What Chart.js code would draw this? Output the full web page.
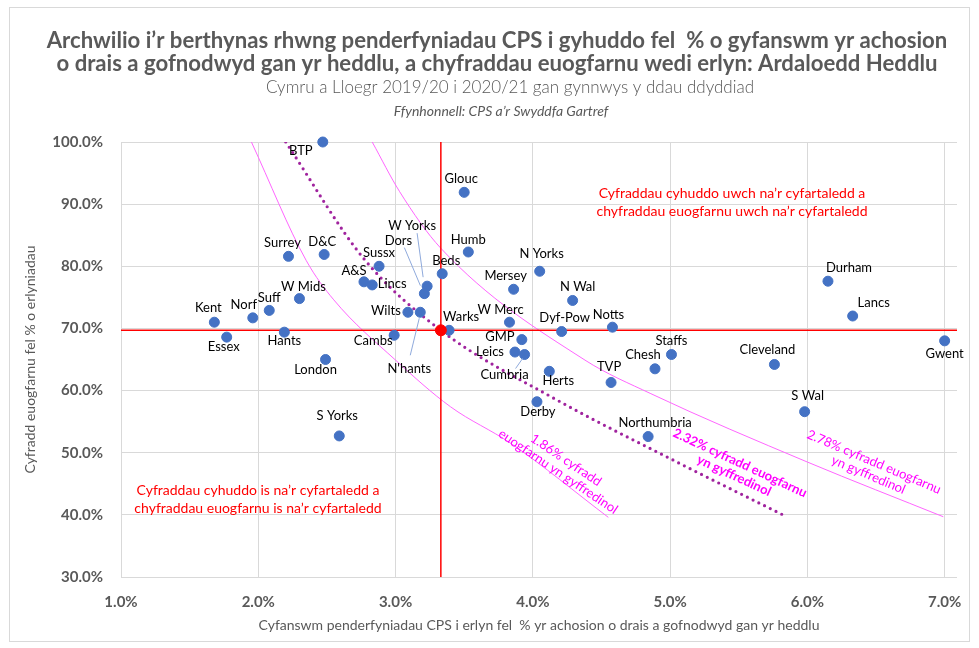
<!DOCTYPE html>
<html>
<head>
<meta charset="utf-8">
<title>Ardaloedd Heddlu</title>
<script src="https://cdn.jsdelivr.net/npm/chart.js@4.4.0/dist/chart.umd.min.js"></script>
<style>
  body { margin: 0; background: #fff; }
</style>
</head>
<body>
<canvas id="grafico" width="979" height="648"></canvas>
<script>
// ardaloedd heddlu: cyfradd cyhuddo (x, %) a chyfradd euogfarnu (y, %)
const areaNames = ['BTP', 'Surrey', 'D&C', 'Sussx', 'A&S', 'Lincs', 'W Yorks', 'Dors', 'Beds',
  'W Mids', 'Suff', 'Norf', 'Kent', 'Essex', 'Hants', 'Wilts', "N'hants", 'Cambs', 'London',
  'S Yorks', 'Glouc', 'Humb', 'N Yorks', 'Mersey', 'N Wal', 'W Merc', 'Warks', 'Dyf-Pow',
  'Notts', 'GMP', 'Leics', 'Cumbria', 'Herts', 'TVP', 'Chesh', 'Staffs', 'Derby',
  'Northumbria', 'Durham', 'Lancs', 'Gwent', 'Cleveland', 'S Wal'];
const chargeRate = [2.47, 2.22, 2.48, 2.88, 2.77, 2.83, 3.23, 3.21, 3.34,
  2.30, 2.08, 1.96, 1.68, 1.77, 2.19, 3.09, 3.18, 2.99, 2.49,
  2.59, 3.50, 3.53, 4.05, 3.86, 4.29, 3.83, 3.39, 4.21,
  4.58, 3.92, 3.87, 3.94, 4.12, 4.57, 4.89, 5.01, 4.03,
  4.84, 6.15, 6.33, 7.00, 5.76, 5.98];
const convictionRate = [100.0, 81.6, 81.9, 80.0, 77.5, 77.0, 76.8, 75.6, 78.8,
  74.8, 72.9, 71.7, 71.0, 68.6, 69.4, 72.6, 72.6, 68.9, 65.0,
  52.7, 91.9, 82.3, 79.2, 76.3, 74.5, 71.0, 69.7, 69.5,
  70.2, 68.2, 66.2, 65.8, 63.1, 61.3, 63.5, 65.8, 58.2,
  52.6, 77.6, 72.0, 68.0, 64.2, 56.6];

// cyfartaledd Cymru a Lloegr
const meanCharge = 3.33;
const meanConviction = 69.7;

// cromliniau cyfradd euogfarnu gyffredinol (darllenwyd o'r llun)
const curve186X = [1.95, 2.35, 2.55, 3.00, 3.40, 3.84, 4.55];
const curve186Y = [100, 80.9, 74.6, 64.9, 57.4, 51.5, 39.6];
const curve232X = [2.20, 2.77, 3.33, 4.15, 5.05, 5.84];
const curve232Y = [100, 81.2, 69.7, 58.8, 48.5, 39.8];
const curve278X = [2.83, 3.03, 3.33, 4.38, 4.86, 6.00, 6.99];
const curve278Y = [100, 92.0, 82.9, 64.9, 59.5, 48.5, 39.7];

const xTicks = [1, 2, 3, 4, 5, 6, 7];
const yTicks = [30, 40, 50, 60, 70, 80, 90, 100];

// lleoliad labeli (dx, dy mewn picseli o'r pwynt)
const labelOffsets = {
  'BTP': [-22, 9], 'Surrey': [-6, -14], 'D&C': [-2, -13], 'Sussx': [0, -13], 'A&S': [-10, -11],
  'Lincs': [20, -1], 'W Yorks': [-15, -60], 'Dors': [-26, -53], 'Beds': [4, -13],
  'W Mids': [4, -12], 'Suff': [0, -13], 'Norf': [-9, -13], 'Kent': [-6, -14], 'Essex': [-3, 10],
  'Hants': [0, 9], 'Wilts': [-22, -1], "N'hants": [-11, 57], 'Cambs': [-21, 6], 'London': [-10, 10],
  'S Yorks': [-2, -20], 'Glouc': [-3, -14], 'Humb': [0, -12], 'N Yorks': [2, -17],
  'Mersey': [-8, -13], 'N Wal': [5, -14], 'W Merc': [-9, -12], 'Warks': [12, -13],
  'Dyf-Pow': [3, -14], 'Notts': [-4, -12], 'GMP': [-22, -3], 'Leics': [-25, 0],
  'Cumbria': [-20, 20], 'Herts': [9, 10], 'TVP': [-2, -16], 'Chesh': [-12, -14],
  'Staffs': [0, -14], 'Derby': [1, 10], 'Northumbria': [7, -14], 'Durham': [21, -13],
  'Lancs': [21, -13], 'Gwent': [0, 13], 'Cleveland': [-7, -15], 'S Wal': [3, -16]
};
const leaderLines = {
  'W Yorks': [-10, -53, -4, -9],
  'Dors': [-20, -46, -4, -8],
  "N'hants": [-10, 43, -1, 6],
  'Cumbria': [-9, 14, -2, 4]
};

const GREY = '#595959';
const FONT = 'Lato, "Open Sans", sans-serif';

function pts(xs, ys) {
  return xs.map((x, i) => ({ x: x, y: ys[i] }));
}

const frame = {
  id: 'frame',
  beforeDraw(chart) {
    const ctx = chart.ctx;
    ctx.save();
    ctx.fillStyle = '#fff';
    ctx.fillRect(0, 0, chart.width, chart.height);
    ctx.strokeStyle = '#d9d9d9';
    ctx.lineWidth = 1;
    ctx.strokeRect(9.5, 7.5, 960, 634);
    ctx.restore();
  }
};

const pointLabels = {
  id: 'pointLabels',
  afterDatasetsDraw(chart) {
    const ctx = chart.ctx;
    const meta = chart.getDatasetMeta(0);
    ctx.save();
    ctx.strokeStyle = '#8faadc';
    ctx.lineWidth = 1;
    meta.data.forEach((el, i) => {
      const l = leaderLines[areaNames[i]];
      if (!l) return;
      ctx.beginPath();
      ctx.moveTo(el.x + l[0], el.y + l[1]);
      ctx.lineTo(el.x + l[2], el.y + l[3]);
      ctx.stroke();
    });
    ctx.font = '13px ' + FONT;
    ctx.fillStyle = '#000';
    ctx.textAlign = 'center';
    ctx.textBaseline = 'middle';
    meta.data.forEach((el, i) => {
      const off = labelOffsets[areaNames[i]] || [0, -13];
      ctx.fillText(areaNames[i], el.x + off[0], el.y + off[1]);
    });

    // testun y pedrantau
    ctx.fillStyle = '#ff0000';
    ctx.font = '14px ' + FONT;
    ctx.fillText('Cyfraddau cyhuddo uwch na\u2019r cyfartaledd a', 732, 193);
    ctx.fillText('chyfraddau euogfarnu uwch na\u2019r cyfartaledd', 732, 211);
    ctx.fillText('Cyfraddau cyhuddo is na\u2019r cyfartaledd a', 258, 490);
    ctx.fillText('chyfraddau euogfarnu is na\u2019r cyfartaledd', 258, 508);

    // labeli'r cromliniau
    const rotated = (lines, cx, cy, deg, font) => {
      ctx.save();
      ctx.translate(cx, cy);
      ctx.rotate(deg * Math.PI / 180);
      ctx.font = font;
      ctx.fillStyle = '#ff00ff';
      lines.forEach((t, k) => ctx.fillText(t, 0, k * 14));
      ctx.restore();
    };
    rotated(['1.86% cyfradd', 'euogfarnu yn gyffredinol'], 566, 460, 34, '13px ' + FONT);
    rotated(['2.32% cyfradd euogfarnu', 'yn gyffredinol'], 740, 463, 25, 'bold 13px ' + FONT);
    rotated(['2.78% cyfradd euogfarnu', 'yn gyffredinol'], 874, 462, 23, '13px ' + FONT);
    ctx.restore();
  }
};

const header = {
  id: 'header',
  afterDraw(chart) {
    const ctx = chart.ctx;
    const line1 = 'Archwilio i\u2019r berthynas rhwng penderfyniadau CPS i gyhuddo fel  % o gyfanswm yr achosion';
    const line2 = 'o drais a gofnodwyd gan yr heddlu, a chyfraddau euogfarnu wedi erlyn: Ardaloedd Heddlu';
    ctx.save();
    ctx.textAlign = 'center';
    ctx.textBaseline = 'middle';
    ctx.fillStyle = GREY;
    ctx.font = 'bold 20px ' + FONT;
    const size = 20 * 901 / ctx.measureText(line1).width;
    ctx.font = 'bold ' + size.toFixed(2) + 'px ' + FONT;
    ctx.fillText(line1, 497, 41);
    ctx.fillText(line2, 497, 64);
    ctx.font = '300 17px ' + FONT;
    ctx.fillText('Cymru a Lloegr 2019/20 i 2020/21 gan gynnwys y ddau ddyddiad', 510, 88);
    ctx.font = 'italic 14px ' + FONT;
    ctx.fillText('Ffynhonnell: CPS a\u2019r Swyddfa Gartref', 501, 111);
    ctx.restore();
  }
};

const curveStyle = {
  showLine: true, pointRadius: 0, pointHoverRadius: 0,
  cubicInterpolationMode: 'monotone', fill: false
};

const ctx = document.getElementById('grafico').getContext('2d');
const grafico = new Chart(ctx, {
  type: 'scatter',
  data: {
    datasets: [
      {
        label: 'Ardaloedd Heddlu',
        data: pts(chargeRate, convictionRate),
        backgroundColor: '#4472c4',
        borderColor: '#4472c4',
        pointRadius: 5,
        borderWidth: 1,
        clip: false,
        order: 2
      },
      {
        label: 'Cyfartaledd',
        data: [{ x: meanCharge, y: meanConviction }],
        backgroundColor: '#ff0000',
        borderColor: '#ff0000',
        pointRadius: 5.5,
        borderWidth: 1,
        clip: false,
        order: 1
      },
      {
        label: 'llinell x',
        data: [{ x: meanCharge, y: 30 }, { x: meanCharge, y: 100 }],
        showLine: true, pointRadius: 0, borderColor: '#ff0000', borderWidth: 1.5,
        order: 3
      },
      {
        label: 'llinell y',
        data: [{ x: 1, y: meanConviction }, { x: 7.09, y: meanConviction }],
        showLine: true, pointRadius: 0, borderColor: '#ff0000', borderWidth: 1.5,
        order: 3
      },
      Object.assign({
        label: '1.86%',
        data: pts(curve186X, curve186Y),
        borderColor: '#ff66ff', borderWidth: 1, order: 4
      }, curveStyle),
      Object.assign({
        label: '2.32%',
        data: pts(curve232X, curve232Y),
        borderColor: '#a0239e', borderWidth: 3.2,
        borderDash: [0, 6.4], borderCapStyle: 'round', order: 4
      }, curveStyle),
      Object.assign({
        label: '2.78%',
        data: pts(curve278X, curve278Y),
        borderColor: '#ff66ff', borderWidth: 1, order: 4
      }, curveStyle)
    ]
  },
  options: {
    responsive: false,
    animation: false,
    devicePixelRatio: 1,
    layout: { padding: { top: 142, left: 8, right: 22, bottom: 10 } },
    plugins: {
      legend: { display: false },
      tooltip: { enabled: false },
      title: { display: false }
    },
    scales: {
      x: {
        type: 'linear',
        min: 1,
        max: 7.09,
        afterBuildTicks: s => { s.ticks = xTicks.map(v => ({ value: v })); },
        afterFit: s => { s.height = 61; },
        grid: { color: '#d9d9d9', drawTicks: false },
        border: { display: false },
        ticks: {
          padding: 16,
          color: GREY,
          font: { family: FONT, size: 15, weight: 'bold' },
          callback: v => v.toFixed(1) + '%'
        },
        title: {
          display: true,
          text: 'Cyfanswm penderfyniadau CPS i erlyn fel  % yr achosion o drais a gofnodwyd gan yr heddlu',
          color: GREY,
          font: { family: FONT, size: 14 },
          padding: { top: 4, bottom: 4 }
        }
      },
      y: {
        type: 'linear',
        min: 30,
        max: 100,
        afterBuildTicks: s => { s.ticks = yTicks.map(v => ({ value: v })); },
        afterFit: s => { s.width = 113; },
        grid: { color: '#d9d9d9', drawTicks: false },
        border: { display: false },
        ticks: {
          padding: 18,
          color: GREY,
          font: { family: FONT, size: 15, weight: 'bold' },
          callback: v => v.toFixed(1) + '%'
        },
        title: {
          display: true,
          text: 'Cyfradd euogfarnu fel % o erlyniadau',
          color: GREY,
          font: { family: FONT, size: 14 },
          padding: { top: 14, bottom: 0 }
        }
      }
    }
  },
  plugins: [frame, pointLabels, header]
});
</script>
</body>
</html>
